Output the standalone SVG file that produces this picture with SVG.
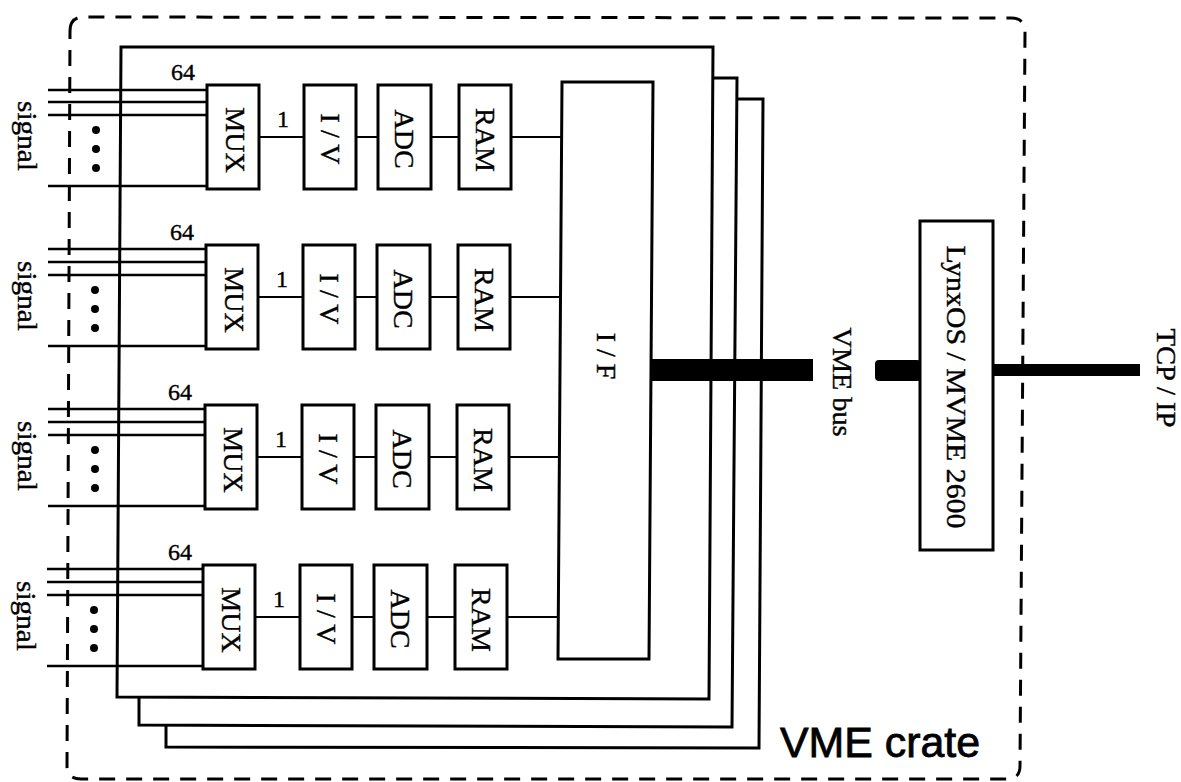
<svg xmlns="http://www.w3.org/2000/svg" width="1181" height="782" viewBox="0 0 1181 782">
<style>
.bx{fill:#fff;stroke:#000;stroke-width:3}
.bd{fill:none;stroke:#000;stroke-width:3;stroke-linejoin:miter}
.sig{stroke:#000;stroke-width:2.5;fill:none}
.cn{stroke:#000;stroke-width:2.2;fill:none}
.lb{font-family:"Liberation Serif","Times New Roman",serif;font-size:28px;fill:#000;stroke:#000;stroke-width:0.4;text-anchor:middle}
.nm{font-family:"Liberation Serif","Times New Roman",serif;font-size:24px;fill:#000;stroke:#000;stroke-width:0.4;text-anchor:middle}
.dot{fill:#000}
</style>
<rect width="1181" height="782" fill="#fff"/>
<!-- outer crate -->
<g id="crate">
<path d="M70,31 Q70,17 84,17 L1011,18 Q1025,18 1025,32 L1020,766 Q1020,779 1007,779 L81,779 Q67,779 67,766 Z" fill="none" stroke="#000" stroke-width="3" stroke-dasharray="16 11"/>
<text x="780" y="757" font-family="'Liberation Sans',Arial,sans-serif" font-size="42" stroke="#000" stroke-width="0.8" textLength="200" lengthAdjust="spacingAndGlyphs">VME crate</text>
</g>
<!-- boards -->
<g id="board3"><path class="bd" stroke-width="2.2" d="M737,99 L763,99 L759,748 L166,747 L166,725"/></g>
<g id="board2"><path class="bd" d="M713,78 L737,78 L732,727 L139,725 L139,698"/></g>
<g id="board1"><path class="bd" d="M121,47 L713,47 L709,699 L117,697 Z"/></g>
<!-- signal inputs -->
<g id="signals">
<path class="sig" d="M48,90 H207 M48,102 H207 M48,115 H207 M48,186 H207"/>
<path class="sig" d="M48,249 H206 M48,262 H206 M48,275 H206 M48,346 H206"/>
<path class="sig" d="M48,409 H205 M48,422 H205 M48,435 H205 M48,506 H205"/>
<path class="sig" d="M47,569 H203 M47,582 H203 M47,595 H203 M47,666 H203"/>
<circle class="dot" cx="96" cy="130" r="4"/><circle class="dot" cx="96" cy="149" r="4"/><circle class="dot" cx="96" cy="168" r="4"/>
<circle class="dot" cx="95" cy="290" r="4"/><circle class="dot" cx="95" cy="309" r="4"/><circle class="dot" cx="95" cy="328" r="4"/>
<circle class="dot" cx="95" cy="450" r="4"/><circle class="dot" cx="95" cy="469" r="4"/><circle class="dot" cx="95" cy="488" r="4"/>
<circle class="dot" cx="94" cy="610" r="4"/><circle class="dot" cx="94" cy="629" r="4"/><circle class="dot" cx="94" cy="648" r="4"/>
<text class="lb" font-size="26" transform="translate(26,136) rotate(90)" dy="0.3em" textLength="70" lengthAdjust="spacingAndGlyphs">signal</text>
<text class="lb" font-size="26" transform="translate(26,296) rotate(90)" dy="0.3em" textLength="70" lengthAdjust="spacingAndGlyphs">signal</text>
<text class="lb" font-size="26" transform="translate(26,456) rotate(90)" dy="0.3em" textLength="70" lengthAdjust="spacingAndGlyphs">signal</text>
<text class="lb" font-size="26" transform="translate(25,616) rotate(90)" dy="0.3em" textLength="70" lengthAdjust="spacingAndGlyphs">signal</text>
<text class="nm" x="183" y="80">64</text>
<text class="nm" x="182" y="240">64</text>
<text class="nm" x="180" y="400">64</text>
<text class="nm" x="180" y="560">64</text>
<text class="nm" x="283" y="127">1</text>
<text class="nm" x="282" y="287">1</text>
<text class="nm" x="281" y="447">1</text>
<text class="nm" x="279" y="607">1</text>
</g>
<!-- connectors -->
<g id="connectors">
<path class="cn" d="M259,137 H304 M356,137 H378 M431,137 H459 M511,137 H562"/>
<path class="cn" d="M258,297 H303 M355,297 H377 M430,297 H458 M510,297 H561"/>
<path class="cn" d="M257,457 H302 M354,457 H376 M429,457 H457 M509,457 H560"/>
<path class="cn" d="M255,617 H300 M352,617 H374 M427,617 H455 M507,617 H559"/>
<rect x="652" y="359" width="161" height="22" fill="#000"/>
<rect x="875" y="360" width="46" height="21" rx="4" fill="#000"/>
<rect x="993" y="364" width="147" height="12" fill="#000"/>
<text class="lb" transform="translate(843,382) rotate(90)" dy="0.35em" textLength="109" lengthAdjust="spacingAndGlyphs">VME bus</text>
<text class="lb" transform="translate(1167,378) rotate(90)" dy="0.35em" textLength="99" lengthAdjust="spacingAndGlyphs">TCP / IP</text>
</g>
<!-- row 1 -->
<g id="mux1"><rect class="bx" x="207" y="85" width="52" height="104"/><text class="lb" transform="translate(236,140) rotate(90)" dy="0.35em">MUX</text></g>
<g id="iv1"><rect class="bx" x="304" y="85" width="52" height="104"/><text class="lb" transform="translate(331,139) rotate(90)" dy="0.35em">I / V</text></g>
<g id="adc1"><rect class="bx" x="378" y="85" width="53" height="104"/><text class="lb" transform="translate(405,139) rotate(90)" dy="0.35em">ADC</text></g>
<g id="ram1"><rect class="bx" x="459" y="85" width="52" height="104"/><text class="lb" transform="translate(486,140) rotate(90)" dy="0.35em">RAM</text></g>
<!-- row 2 -->
<g id="mux2"><rect class="bx" x="206" y="245" width="52" height="104"/><text class="lb" transform="translate(235,300) rotate(90)" dy="0.35em">MUX</text></g>
<g id="iv2"><rect class="bx" x="303" y="245" width="52" height="104"/><text class="lb" transform="translate(330,299) rotate(90)" dy="0.35em">I / V</text></g>
<g id="adc2"><rect class="bx" x="377" y="245" width="53" height="104"/><text class="lb" transform="translate(404,299) rotate(90)" dy="0.35em">ADC</text></g>
<g id="ram2"><rect class="bx" x="458" y="245" width="52" height="104"/><text class="lb" transform="translate(485,300) rotate(90)" dy="0.35em">RAM</text></g>
<!-- row 3 -->
<g id="mux3"><rect class="bx" x="205" y="405" width="52" height="104"/><text class="lb" transform="translate(234,460) rotate(90)" dy="0.35em">MUX</text></g>
<g id="iv3"><rect class="bx" x="302" y="405" width="52" height="104"/><text class="lb" transform="translate(329,459) rotate(90)" dy="0.35em">I / V</text></g>
<g id="adc3"><rect class="bx" x="376" y="405" width="53" height="104"/><text class="lb" transform="translate(403,459) rotate(90)" dy="0.35em">ADC</text></g>
<g id="ram3"><rect class="bx" x="457" y="405" width="52" height="104"/><text class="lb" transform="translate(484,460) rotate(90)" dy="0.35em">RAM</text></g>
<!-- row 4 -->
<g id="mux4"><rect class="bx" x="203" y="565" width="52" height="104"/><text class="lb" transform="translate(232,620) rotate(90)" dy="0.35em">MUX</text></g>
<g id="iv4"><rect class="bx" x="300" y="565" width="52" height="104"/><text class="lb" transform="translate(327,619) rotate(90)" dy="0.35em">I / V</text></g>
<g id="adc4"><rect class="bx" x="374" y="565" width="53" height="104"/><text class="lb" transform="translate(401,619) rotate(90)" dy="0.35em">ADC</text></g>
<g id="ram4"><rect class="bx" x="455" y="565" width="52" height="104"/><text class="lb" transform="translate(482,620) rotate(90)" dy="0.35em">RAM</text></g>
<!-- interface -->
<g id="if"><path class="bx" d="M562,82 L653,82 L649,659 L558,659 Z"/><text class="lb" transform="translate(607,356) rotate(90)" dy="0.35em">I / F</text></g>
<!-- CPU -->
<g id="cpu"><rect class="bx" x="920" y="221" width="73" height="329"/><text class="lb" transform="translate(957,387) rotate(90)" dy="0.35em" textLength="283" lengthAdjust="spacingAndGlyphs">LynxOS / MVME 2600</text></g>
</svg>
